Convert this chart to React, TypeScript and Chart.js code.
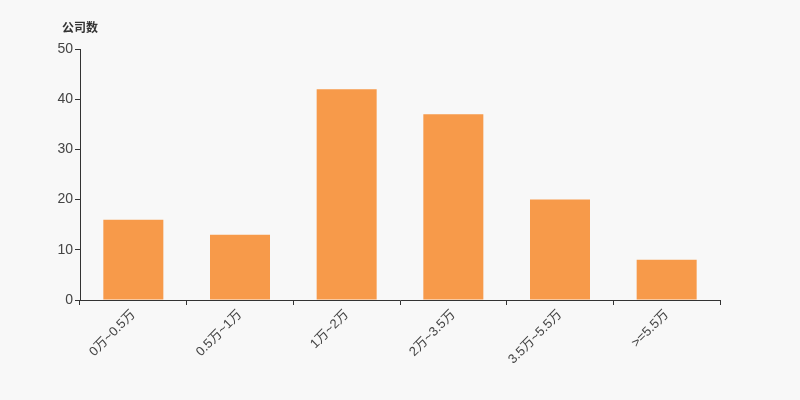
import React, { useEffect, useRef } from "react";
import { Chart, registerables } from "chart.js";

Chart.register(...registerables);

const categories = ["0万~0.5万", "0.5万~1万", "1万~2万", "2万~3.5万", "3.5万~5.5万", ">=5.5万"];
const companyCounts = [16, 13, 42, 37, 20, 8];
const yTicks = [0, 10, 20, 30, 40, 50];
const yTitle = "公司数";

const axisTitlePlugin = {
  id: "axisTitle",
  afterDraw(chart: any) {
    const ctx = chart.ctx;
    const area = chart.chartArea;
    ctx.save();
    ctx.font = "bold 12px 'Noto Sans CJK SC', sans-serif";
    ctx.fillStyle = "#333";
    ctx.textAlign = "center";
    ctx.textBaseline = "middle";
    ctx.fillText(yTitle, area.left, area.top - 22);
    ctx.restore();
  },
};

const bgPlugin = {
  id: "bg",
  beforeDraw(chart: any) {
    const ctx = chart.ctx;
    ctx.save();
    ctx.fillStyle = "#f8f8f8";
    ctx.fillRect(0, 0, chart.width, chart.height);
    ctx.restore();
  },
};

export default function App() {
  const ref = useRef<HTMLCanvasElement>(null);
  useEffect(() => {
    document.body.style.margin = "0";
    const chart = new Chart(ref.current!, {
      type: "bar",
      data: {
        labels: categories,
        datasets: [
          {
            data: companyCounts,
            backgroundColor: "#f79a4a",
            barPercentage: 0.5625,
            categoryPercentage: 1,
          },
        ],
      },
      options: {
        animation: false,
        responsive: false,
        layout: { padding: { top: 49, right: 80, left: 0, bottom: 0 } },
        plugins: { legend: { display: false }, tooltip: { enabled: false } },
        scales: {
          x: {
            grid: { drawOnChartArea: false, tickLength: 5, color: "#333", offset: true },
            border: { color: "#333" },
            ticks: {
              maxRotation: 45,
              minRotation: 45,
              color: "#444",
              padding: 2,
              font: { size: 13, family: "'Liberation Sans', 'Noto Sans CJK SC', sans-serif" },
            },
            afterFit(scale: any) {
              scale.height = 100;
            },
          },
          y: {
            min: 0,
            max: 50,
            afterBuildTicks(scale: any) {
              scale.ticks = yTicks.map((v) => ({ value: v }));
            },
            grid: { drawOnChartArea: false, tickLength: 5, color: "#333" },
            border: { color: "#333" },
            ticks: {
              color: "#444",
              padding: 2,
              font: { size: 14, family: "'Liberation Sans', Arial, sans-serif" },
            },
            afterFit(scale: any) {
              scale.width = 80;
            },
          },
        },
      },
      plugins: [bgPlugin, axisTitlePlugin],
    });
    return () => chart.destroy();
  }, []);
  return (
    <div style={{ position: "absolute", left: 0, top: 0, width: 800, height: 400 }}>
      <canvas ref={ref} width={800} height={400} style={{ width: 800, height: 400 }} />
    </div>
  );
}
